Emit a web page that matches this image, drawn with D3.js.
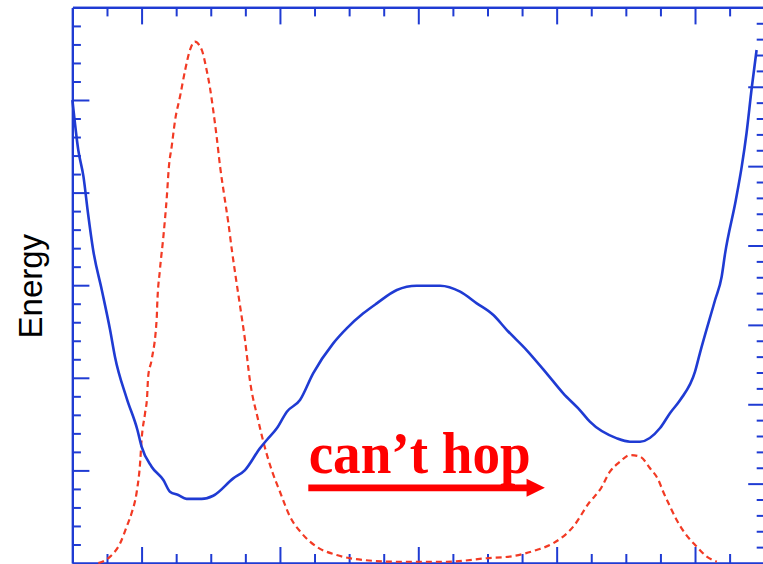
<!DOCTYPE html>
<html>
<head>
<meta charset="utf-8">
<script src="https://cdn.jsdelivr.net/npm/d3@7/dist/d3.min.js"></script>
<style>
  html, body { margin: 0; padding: 0; background: #fff; }
  svg { display: block; }
</style>
</head>
<body>
<svg id="chart" width="763" height="564"></svg>
<script>
// Reaction coordinate positions (x units) and potential energy along the path
const energyX = [0, 0.17, 0.32, 0.45, 0.60, 0.85, 1.09, 1.23, 1.57, 1.88, 2.00, 2.29, 2.63, 2.82, 3.06, 3.30, 3.74, 4.07, 4.65, 4.99, 5.42, 5.62, 5.91, 6.20, 6.58, 6.96, 7.54, 7.93, 8.41, 8.80, 9.38, 9.95, 10.63, 11.21, 11.69, 12.17, 12.56, 13.13, 13.71, 14.19, 14.67, 14.96, 15.74, 16.12, 16.41, 16.99, 17.28, 17.57, 18.00, 18.14, 18.58, 18.77, 18.87, 19.18, 19.35, 19.49, 19.64, 19.78];
const energyY = [25.0, 22.30, 20.86, 18.90, 16.90, 14.74, 12.58, 11.14, 8.89, 7.18, 6.28, 5.20, 4.48, 3.85, 3.67, 3.46, 3.46, 3.63, 4.57, 5.02, 6.19, 6.64, 7.27, 8.17, 8.80, 10.24, 11.86, 12.67, 13.48, 14.02, 14.74, 14.97, 14.97, 14.65, 14.02, 13.39, 12.58, 11.50, 10.24, 9.16, 8.26, 7.63, 6.73, 6.55, 6.55, 7.29, 8.10, 8.80, 10.33, 11.32, 14.20, 15.46, 16.72, 19.60, 21.40, 23.22, 25.66, 27.70];

// Population (occupation probability) along the same coordinate
const popX = [0.75, 1.09, 1.38, 1.57, 1.71, 1.86, 1.96, 2.00, 2.10, 2.16, 2.19, 2.29, 2.44, 2.45, 2.53, 2.63, 2.73, 2.79, 2.87, 2.97, 3.11, 3.26, 3.40, 3.54, 3.74, 3.88, 3.98, 4.07, 4.17, 4.27, 4.38, 4.51, 4.61, 4.72, 4.85, 4.99, 5.13, 5.37, 5.52, 5.76, 6.00, 6.29, 6.63, 7.06, 7.64, 8.41, 9.38, 10.82, 11.98, 12.75, 13.42, 13.90, 14.48, 14.96, 15.25, 15.54, 15.83, 16.12, 16.41, 16.70, 16.94, 17.08, 17.28, 17.47, 17.71, 18.05, 18.34, 18.63];
const popY = [0.0, 0.40, 1.24, 2.29, 3.13, 4.49, 6.38, 7.75, 9.43, 10.48, 11.74, 12.79, 15.52, 16.15, 18.46, 20.56, 23.08, 24.97, 26.23, 27.91, 29.37, 31.06, 32.32, 32.84, 32.32, 31.06, 29.90, 28.54, 26.86, 24.97, 23.29, 21.40, 19.72, 18.04, 16.15, 14.05, 11.53, 9.01, 7.64, 5.86, 4.49, 2.92, 1.87, 1.03, 0.50, 0.19, 0.08, 0.08, 0.30, 0.44, 0.82, 1.24, 2.29, 3.86, 4.60, 5.75, 6.38, 6.80, 6.70, 5.97, 5.23, 4.49, 3.55, 2.71, 1.87, 1.03, 0.40, 0.08];

// Tick values
const xMinorTicks = d3.range(1, 20);
const xMajorTicks = [2, 6, 10, 14, 18];
const yMinorTicks = d3.range(1, 30);
const yMajorTicks = [5, 10, 15, 20, 25];
const y2MinorTicks = d3.range(1, 35);
const y2MajorTicks = [5, 10, 15, 20, 25, 30];

const yLabel = "Energy";
const noteText = "can\u2019t hop";

const axisColor = "#1f3bd3";
const energyColor = "#1f3bd3";
const popColor = "#f23a24";
const noteColor = "#ff0000";

const svg = d3.select("#chart");
const plot = { left: 72.4, right: 764.2, top: 7.4, bottom: 563 };

const x = d3.scaleLinear().domain([0, 20]).range([plot.left, plot.right]);
const y = d3.scaleLinear().domain([0, 30]).range([plot.bottom, plot.top]);
const y2 = d3.scaleLinear().domain([0, 35]).range([plot.bottom, plot.top]);

function drawAxis(gen, transform, ticks, size) {
  const g = svg.append("g").attr("transform", transform)
    .call(gen.tickValues(ticks).tickSize(size).tickSizeOuter(0).tickFormat(""));
  g.selectAll("path.domain").attr("stroke", axisColor).attr("stroke-width", 2.2);
  g.selectAll(".tick line").attr("stroke", axisColor).attr("stroke-width", 2);
  return g;
}

// Frame: left, top, bottom and right spines, ticks pointing inward
drawAxis(d3.axisRight(y), `translate(${plot.left},0)`, yMinorTicks.filter(t => !yMajorTicks.includes(t)), 8.5);
drawAxis(d3.axisRight(y), `translate(${plot.left},0)`, yMajorTicks, 17);
drawAxis(d3.axisBottom(x), `translate(0,${plot.top})`, xMinorTicks.filter(t => !xMajorTicks.includes(t)), 9);
drawAxis(d3.axisBottom(x), `translate(0,${plot.top})`, xMajorTicks, 17);
drawAxis(d3.axisTop(x), `translate(0,${plot.bottom})`, xMinorTicks.filter(t => !xMajorTicks.includes(t)), 9);
drawAxis(d3.axisTop(x), `translate(0,${plot.bottom})`, xMajorTicks, 16);
drawAxis(d3.axisLeft(y2), `translate(${plot.right},0)`, y2MinorTicks.filter(t => !y2MajorTicks.includes(t)), 7.5);
drawAxis(d3.axisLeft(y2), `translate(${plot.right},0)`, y2MajorTicks, 16);

// Population curve (dashed)
const popLine = d3.line().x(d => x(d[0])).y(d => y2(d[1])).curve(d3.curveMonotoneX);
svg.append("path")
  .datum(popX.map((v, i) => [v, popY[i]]))
  .attr("d", popLine)
  .attr("fill", "none")
  .attr("stroke", popColor)
  .attr("stroke-width", 2.2)
  .attr("stroke-dasharray", "6,4");

// Energy profile (double well)
const energyLine = d3.line().x(d => x(d[0])).y(d => y(d[1])).curve(d3.curveMonotoneX);
svg.append("path")
  .datum(energyX.map((v, i) => [v, energyY[i]]))
  .attr("d", energyLine)
  .attr("fill", "none")
  .attr("stroke", energyColor)
  .attr("stroke-width", 2.6)
  .attr("stroke-linejoin", "round");

// Y axis title
svg.append("text")
  .attr("transform", `translate(42,${y(15) + 1}) rotate(-90)`)
  .attr("text-anchor", "middle")
  .attr("font-family", "'Liberation Sans', Arial, sans-serif")
  .attr("font-size", 33)
  .attr("fill", "#000")
  .text(yLabel);

// Annotation: barrier too high to cross
svg.append("text")
  .attr("x", x(6.83))
  .attr("y", y(4.85))
  .attr("font-family", "'Liberation Serif', 'Times New Roman', serif")
  .attr("font-weight", "bold")
  .attr("font-size", 60)
  .attr("textLength", 222)
  .attr("lengthAdjust", "spacingAndGlyphs")
  .attr("fill", noteColor)
  .text(noteText);

const arrowY = y(4.06);
svg.append("line")
  .attr("x1", x(6.82)).attr("x2", x(13.3))
  .attr("y1", arrowY).attr("y2", arrowY)
  .attr("stroke", noteColor)
  .attr("stroke-width", 6.7);
svg.append("path")
  .attr("d", `M${x(13.13)},${arrowY - 9}L${x(13.66)},${arrowY}L${x(13.13)},${arrowY + 9}Z`)
  .attr("fill", noteColor);
</script>
</body>
</html>
